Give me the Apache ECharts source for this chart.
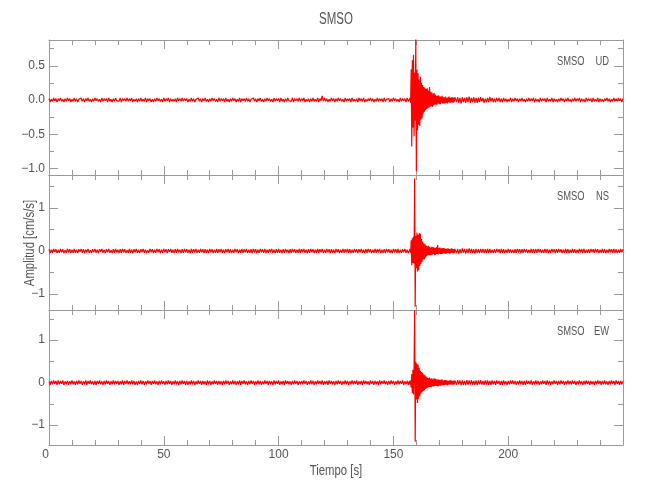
<!DOCTYPE html>
<html><head><meta charset="utf-8">
<script src="https://cdn.jsdelivr.net/npm/echarts@6/dist/echarts.min.js"></script>
<style>html,body{margin:0;padding:0;background:#fff}#c{width:650px;height:500px}</style>
</head><body><div id="c"></div>
<script>
// ---- text ----
const stationName = 'SMSO';
const channels = ['UD', 'NS', 'EW'];
const xAxisTitle = 'Tiempo [s]';
const yAxisTitle = 'Amplitud [cm/s/s]';
const xTickLabels = [0, 50, 100, 150, 200];

// ---- sampling of the read-off traces (seconds) ----
const preStart = 0, preStep = 0.5;
const eventStart = 157, eventStep = 0.25;
const postStart = 177, postStep = 0.5;
const valueUnit = 0.01; // values below are in hundredths of cm/s/s

// ---- UD ----
const udPre = [
 2,-3,1,-2,3,-1,2,-3,2,-1,3,-2,1,-3,2,-2,3,-1,2,-3,
 1,-2,3,-2,2,-3,1,-1,3,-2,2,-3,2,-1,3,-2,1,-3,2,-2,
 3,-1,2,-2,1,-3,3,-2,2,-1,2,-3,3,-2,1,-3,2,-2,3,-1,
 1,-2,3,-3,2,-1,2,-2,3,-2,2,-1,3,-3,1,-2,2,-3,2,-2,
 3,-2,1,-2,3,-3,2,-1,2,-3,1,-3,2,-2,3,-1,2,-2,1,-3,
 3,-2,2,-1,3,-3,2,-2,1,-2,2,-3,3,-1,2,-2,3,-2,2,-1,
 2,-3,1,-2,3,-2,2,-3,1,-1,3,-2,2,-3,2,-1,3,-2,1,-3,
 2,-2,3,-1,2,-2,1,-3,3,-2,2,-1,2,-3,3,-2,1,-3,2,-2,
 3,-1,2,-3,1,-2,3,-3,2,-1,2,-2,3,-2,2,-3,1,-1,3,-2,
 2,-3,2,-1,3,-2,1,-3,2,-2,3,-1,2,-2,1,-3,3,-2,2,-1,
 2,-3,3,-2,1,-3,2,-2,3,-1,1,-2,3,-3,2,-1,2,-2,3,-2,
 2,-1,3,-3,1,-2,2,-3,2,-2,3,-2,1,-2,3,-3,2,-1,6,-2,
 3,-2,2,-3,1,-2,3,-1,2,-3,2,-2,3,-1,2,-2,1,-3,3,-2,
 2,-1,2,-3,3,-2,1,-2,2,-3,3,-1,2,-2,3,-3,1,-2,2,-1,
 3,-2,2,-3,1,-2,3,-2,2,-1,2,-3,3,-2,1,-1,2,-3,2,-2,
 3,-1,2,-2,1,-3,3,-2,2,-1,2,-3,3,-2];
const udEvent = [
 -3,3,-4,45,-68,58,-40,66,-53,40,
 -30,90,-104,44,-44,39,-36,30,-38,34,
 -29,25,-27,22,-20,19,-17,18,-15,16,
 -13,17,-12,14,-11,19,-10,12,-9,11,
 -10,9,-8,10,-7,8,-7,6,-7,6,
 -5,7,-6,5,-6,5,-4,6,-5,4,
 -5,4,-5,5,-4,3,-5,4,-3,5,
 -4,3,-4,4,-3,4,-4,3,-3,4];
const udPost = [
 4,-3,4,-4,3,-5,4,-3,3,-4,4,-3,5,-4,3,-3,4,-4,3,-4,
 3,-3,4,-2,3,-4,2,-3,3,-3,4,-2,3,-3,2,-3,3,-2,3,-3,
 2,-3,3,-2,2,-3,1,-2,3,-3,2,-2,3,-1,2,-3,2,-2,3,-2,
 1,-3,2,-2,3,-2,2,-1,3,-3,2,-2,1,-3,3,-2,2,-1,2,-3,
 3,-2,1,-2,3,-3,2,-2,1,-3,2,-2,3,-1,2,-3,2,-2,3,-2,
 1,-3,2,-2,3,-2,2,-1,3,-3,2,-2,1,-3,3,-2,2,-1,2,-3,
 3,-2,1,-2,3,-3,2,-2,1,-3,2,-1,3,-2,2,-3,1,-2,3,-2,
 2,-2,3,-1,2,-3,2];

// ---- NS ----
const nsPre = [
 4,-5,3,-4,5,-2,4,-5,3,-4,5,-3,4,-5,2,-4,5,-3,4,-5,
 3,-4,5,-4,3,-5,4,-2,5,-4,4,-5,3,-3,5,-4,2,-5,4,-3,
 5,-4,3,-5,4,-2,5,-4,3,-5,4,-3,5,-4,2,-5,4,-4,5,-3,
 3,-5,4,-4,5,-3,4,-5,2,-4,5,-4,3,-5,4,-3,5,-4,3,-5,
 4,-3,5,-4,3,-5,2,-4,5,-3,4,-5,3,-4,5,-3,4,-5,3,-4,
 5,-3,4,-5,4,-2,5,-4,3,-5,4,-4,5,-3,3,-5,4,-4,5,-3,
 4,-4,3,-5,5,-4,4,-3,5,-5,3,-4,5,-3,4,-5,4,-4,3,-5,
 5,-3,4,-5,3,-4,5,-4,4,-3,5,-4,3,-5,4,-3,5,-4,4,-5,
 3,-4,5,-3,4,-5,3,-4,5,-4,4,-3,5,-5,3,-4,4,-5,5,-3,
 4,-5,3,-4,5,-3,4,-4,5,-5,3,-4,4,-3,5,-4,3,-5,4,-4,
 5,-4,3,-5,4,-4,5,-3,3,-5,4,-4,5,-3,4,-5,3,-4,5,-4,
 4,-3,5,-4,3,-5,4,-4,5,-3,4,-5,3,-4,5,-4,4,-3,5,-5,
 3,-4,5,-3,4,-5,4,-4,3,-5,5,-3,4,-5,3,-4,5,-4,4,-3,
 5,-4,4,-5,3,-4,5,-3,4,-5,4,-3,5,-4,3,-5,4,-4,5,-3,
 4,-5,3,-4,5,-4,4,-3,5,-5,3,-4,4,-5,5,-3,4,-4,3,-5,
 5,-3,4,-4,5,-5,3,-4,4,-3,5,-4,3,-5];
const nsEvent = [
 -4,5,-4,25,-33,30,-28,33,-30,170,
 -130,35,-40,43,-48,38,-45,42,-35,40,
 -30,28,-25,22,-20,18,-19,16,-15,13,
 -12,11,-10,12,-9,10,-10,8,-9,10,
 -8,9,-7,8,-9,7,-8,9,-7,14,
 -8,7,-6,8,-7,6,-7,6,-6,7,
 -5,6,-6,5,-6,5,-5,6,-5,5,
 -6,4,-5,6,-4,5,-5,4,-5,5];
const nsPost = [
 6,-5,5,-6,4,-5,6,-4,5,-6,5,-5,6,-4,5,-5,4,-6,5,-5,
 4,-5,5,-4,5,-5,4,-5,5,-4,5,-4,3,-5,4,-5,5,-3,4,-5,
 5,-4,4,-5,3,-4,5,-4,4,-5,3,-5,4,-4,5,-3,4,-5,4,-4,
 5,-3,4,-5,3,-4,5,-4,4,-5,4,-4,5,-3,4,-5,3,-4,5,-4,
 4,-5,3,-4,5,-3,4,-5,4,-4,5,-3,4,-5,3,-4,5,-4,4,-5,
 3,-4,5,-4,4,-5,3,-4,5,-3,4,-4,5,-5,3,-4,4,-5,5,-3,
 4,-4,5,-3,4,-5,3,-4,5,-4,4,-5,3,-4,5,-3,4,-4,5,-5,
 4,-5,3,-4,5,-3,4];

// ---- EW ----
const ewPre = [
 3,-5,4,-4,5,-3,4,-5,5,-4,4,-3,5,-5,3,-4,4,-5,3,-4,
 5,-4,3,-5,4,-4,5,-3,4,-5,3,-4,5,-5,4,-3,5,-4,3,-5,
 4,-5,4,-3,5,-4,3,-5,4,-4,5,-3,4,-5,3,-4,5,-4,4,-3,
 4,-5,3,-4,5,-5,4,-3,5,-4,3,-4,5,-4,4,-5,3,-5,4,-3,
 5,-4,4,-5,3,-4,5,-3,4,-5,4,-3,5,-4,3,-5,4,-4,5,-3,
 3,-5,4,-4,5,-3,4,-5,3,-4,5,-4,3,-5,4,-4,5,-3,4,-5,
 4,-5,3,-4,5,-4,4,-5,3,-4,5,-3,4,-5,4,-4,3,-5,5,-4,
 4,-5,3,-4,5,-3,4,-5,4,-4,3,-5,4,-4,5,-3,4,-5,3,-4,
 5,-4,4,-5,3,-4,5,-5,4,-3,5,-4,3,-5,4,-4,5,-3,4,-5,
 3,-4,5,-4,4,-5,3,-4,5,-3,4,-5,4,-4,3,-5,5,-4,4,-3,
 5,-5,3,-4,4,-5,5,-3,4,-4,3,-5,4,-4,5,-3,4,-5,3,-4,
 4,-4,5,-3,4,-5,3,-4,5,-4,4,-5,3,-4,5,-3,4,-4,5,-5,
 3,-4,4,-5,5,-3,4,-4,3,-5,4,-4,5,-3,4,-5,3,-4,5,-4,
 4,-5,3,-4,5,-4,4,-3,5,-5,3,-4,4,-5,5,-3,4,-4,3,-5,
 5,-3,4,-5,4,-4,3,-5,5,-4,4,-3,5,-4,3,-5,4,-4,5,-3,
 4,-5,3,-4,5,-4,4,-3,5,-5,3,-4,4,-5];
const ewEvent = [
 4,-5,5,-12,20,-25,30,-28,35,170,
 -139,49,-40,45,-48,42,-38,35,-32,28,
 -26,25,-22,23,-20,19,-18,17,-15,14,
 -13,12,-12,11,-10,12,-10,9,-11,10,
 -9,8,-9,10,-8,9,-7,8,-8,7,
 -9,7,-7,6,-7,7,-6,7,-6,5,
 -6,6,-5,6,-5,5,-6,5,-5,4,
 -5,6,-4,5,-5,4,-5,5,-4,5];
const ewPost = [
 6,-5,6,-4,5,-6,5,-5,4,-6,6,-5,5,-4,6,-5,4,-5,5,-6,
 5,-4,6,-5,4,-5,5,-4,5,-5,4,-5,5,-4,4,-5,5,-3,4,-5,
 4,-5,5,-4,3,-5,4,-4,5,-3,5,-4,4,-5,3,-4,5,-4,4,-5,
 4,-5,5,-3,4,-4,5,-5,3,-4,5,-4,4,-5,3,-4,5,-3,4,-5,
 5,-4,4,-5,3,-4,5,-3,4,-5,4,-4,5,-3,4,-5,3,-4,5,-4,
 4,-4,5,-3,4,-5,3,-4,5,-4,3,-5,4,-4,5,-3,4,-5,4,-4,
 3,-5,4,-4,5,-3,4,-5,4,-4,5,-4,3,-5,4,-4,5,-3,4,-5,
 5,-3,4,-5,4,-4,3];

// ---- axis ranges & ticks ----
const udRange = [-1.095, 0.876], udMajor = [-1, -0.5, 0, 0.5], udMinor = [-0.75, -0.25, 0.25, 0.75];
const nsRange = [-1.377, 1.774], nsMajor = [-1, 0, 1], nsMinor = [-0.5, 0.5, 1.5];
const ewRange = [-1.468, 1.708], ewMajor = [-1, 0, 1], ewMinor = [-0.5, 0.5, 1.5];

// ---- build ----
function build(pre, ev, post) {
  const out = [];
  pre.forEach((v, i) => out.push([preStart + i * preStep, v * valueUnit]));
  ev.forEach((v, i) => out.push([eventStart + i * eventStep, v * valueUnit]));
  post.forEach((v, i) => out.push([postStart + i * postStep, v * valueUnit]));
  return out;
}
const traces = [build(udPre, udEvent, udPost), build(nsPre, nsEvent, nsPost), build(ewPre, ewEvent, ewPost)];
const ranges = [udRange, nsRange, ewRange];
const majors = [udMajor, nsMajor, ewMajor];
const minors = [udMinor, nsMinor, ewMinor];

const FONT = "'Liberation Sans',Arial,sans-serif";
const AX = '#9a9a9a', TX = '#555';
const gridTops = [40, 175, 310];
const rect = t => ({ left: 49, width: 574, top: t, height: 135 });
// main grids 0..2, overlay grids 3..5 (same boxes) that carry the short minor y-ticks
const grids = gridTops.map(rect).concat(gridTops.map(rect));
const fmtMinus = s => String(s).replace('-', '\u2212');

const xAxes = [], yAxes = [], series = [];
gridTops.forEach((t, gi) => {
  ['bottom', 'top'].forEach(pos => {
    xAxes.push({
      gridIndex: gi, type: 'value', min: 0, max: 250, interval: 50, position: pos,
      axisLine: { show: true, onZero: false, lineStyle: { color: AX, width: 1 } },
      axisTick: { show: true, inside: true, length: 9, lineStyle: { color: AX } },
      minorTick: { show: true, splitNumber: 5, length: 5, lineStyle: { color: AX } },
      splitLine: { show: false },
      axisLabel: {
        show: gi === 2 && pos === 'bottom', margin: 4, color: TX, fontSize: 12, fontFamily: FONT,
        alignMinLabel: 'right',
        formatter: v => (xTickLabels.indexOf(v) >= 0 ? String(v) : '')
      }
    });
  });
  const r = ranges[gi];
  ['left', 'right'].forEach(pos => {
    yAxes.push({
      gridIndex: gi, type: 'value', min: r[0], max: r[1], position: pos,
      axisLine: { show: true, onZero: false, lineStyle: { color: AX, width: 1 } },
      axisTick: { show: true, inside: true, length: 9, customValues: majors[gi], lineStyle: { color: AX } },
      splitLine: { show: false },
      axisLabel: {
        show: pos === 'left', customValues: majors[gi], margin: 4, color: TX, fontSize: 12, fontFamily: FONT,
        formatter: v => fmtMinus(gi === 0 ? v.toFixed(1) : String(Math.round(v)))
      }
    });
  });
  series.push({
    name: stationName + ' ' + channels[gi], type: 'line', xAxisIndex: gi * 2, yAxisIndex: gi * 2,
    data: traces[gi], showSymbol: false, symbol: 'none', clip: true,
    lineStyle: { color: '#ff0000', width: 1.2 }, itemStyle: { color: '#ff0000' }
  });
});
// overlay grids: hidden x axis + minor y ticks on both sides
gridTops.forEach((t, gi) => {
  xAxes.push({ gridIndex: 3 + gi, type: 'value', min: 0, max: 250, show: false });
  ['left', 'right'].forEach(pos => {
    yAxes.push({
      gridIndex: 3 + gi, type: 'value', min: ranges[gi][0], max: ranges[gi][1], position: pos,
      axisLine: { show: false },
      axisTick: { show: true, inside: true, length: 5, customValues: minors[gi], lineStyle: { color: AX } },
      splitLine: { show: false },
      axisLabel: { show: false }
    });
  });
});

const txt = (text, x, y, size, align, extra) => Object.assign({
  type: 'text', x, y, silent: true,
  style: { text, fill: TX, fontSize: size, fontFamily: FONT, align: align || 'center', verticalAlign: 'middle' }
}, extra || {});

const graphic = [
  txt(stationName, 336, 20, 16, 'center', { scaleX: 0.72 }),
  txt(xAxisTitle, 336, 471, 14, 'center', { scaleX: 0.81 }),
  txt(yAxisTitle, 30, 243, 14, 'center', { rotation: Math.PI / 2, scaleX: 0.81 })
];
channels.forEach((c, i) => {
  graphic.push(txt(stationName, 557, gridTops[i] + 22, 12.5, 'left', { scaleX: 0.75 }));
  graphic.push(txt(c, 609, gridTops[i] + 22, 12.5, 'right', { scaleX: 0.75 }));
});

const chart = echarts.init(document.getElementById('c'), null, { renderer: 'canvas' });
chart.setOption({
  animation: false,
  backgroundColor: '#fff',
  grid: grids, xAxis: xAxes, yAxis: yAxes, series, graphic
});
</script></body></html>
